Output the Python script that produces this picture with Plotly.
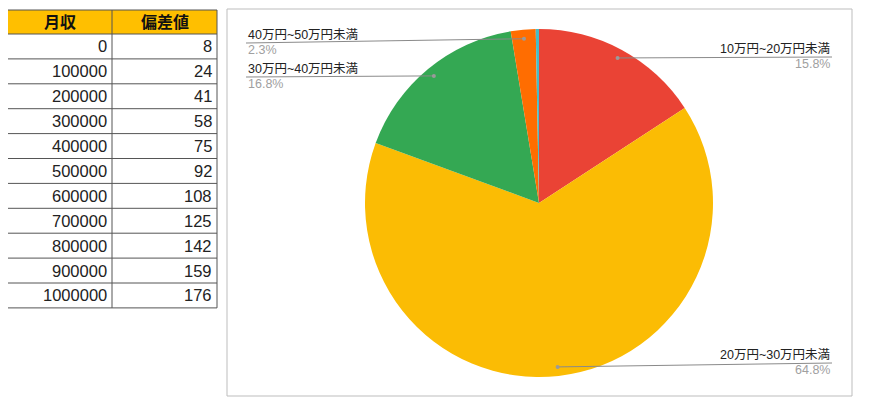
import math
import plotly.graph_objects as go

# table data
header = ["月収", "偏差値"]
income = [0, 100000, 200000, 300000, 400000, 500000, 600000, 700000, 800000, 900000, 1000000]
deviation = [8, 24, 41, 58, 75, 92, 108, 125, 142, 159, 176]

# pie data (percent)
labels = ["10万円~20万円未満", "20万円~30万円未満", "30万円~40万円未満", "40万円~50万円未満", "50万円以上"]
shares = [15.8, 64.8, 16.8, 2.3, 0.3]
colors = ["#EA4335", "#FBBC04", "#34A853", "#FF6D01", "#46BDC6"]

W, H = 870, 410
OFF = 8  # page margin of the browser
CX, CY, R = 539, 203, 174  # pie centre / radius in screen px


def px(x, y):
    return (x - OFF) / W, 1 - (y - OFF) / H


fig = go.Figure()

# ---- table drawn with shapes ----
TX0, TX1, TX2 = 7, 112, 217
TY0, HEAD_H, ROW_H = 10, 24, 24.9
n = len(income)
ty_end = TY0 + HEAD_H + n * ROW_H

a, b = px(TX0, TY0)
c, d = px(TX2, TY0 + HEAD_H)
fig.add_shape(type="rect", xref="paper", yref="paper", x0=a, y0=b, x1=c, y1=d,
              fillcolor="#FFBF00", line=dict(width=0), layer="below")

grid = dict(color="#555", width=1)
for k in range(n + 2):
    yy = TY0 if k == 0 else TY0 + HEAD_H + (k - 1) * ROW_H
    a, b = px(TX0, yy)
    c, _ = px(TX2, yy)
    fig.add_shape(type="line", xref="paper", yref="paper", x0=a, y0=b, x1=c, y1=b, line=grid)
for xx in (TX0, TX1, TX2):
    a, b = px(xx, TY0)
    _, d = px(xx, ty_end)
    fig.add_shape(type="line", xref="paper", yref="paper", x0=a, y0=b, x1=a, y1=d, line=grid)

for j, (xl, xr) in enumerate([(TX0, TX1), (TX1, TX2)]):
    a, b = px((xl + xr) / 2, TY0 + HEAD_H / 2)
    fig.add_annotation(x=a, y=b, xref="paper", yref="paper", text=f"<b>{header[j]}</b>",
                       showarrow=False, xanchor="center", yanchor="middle",
                       font=dict(family="Arial, Noto Sans CJK JP", size=16, color="#111"))

for col, xr in ((income, TX1), (deviation, TX2)):
    for i, v in enumerate(col):
        a, b = px(xr - 3, TY0 + HEAD_H + (i + 0.5) * ROW_H)
        fig.add_annotation(x=a, y=b, xref="paper", yref="paper", text=str(v),
                           showarrow=False, xanchor="right", yanchor="middle",
                           font=dict(family="Arial", size=16.5, color="#222"))

# ---- pie ----
fig.add_trace(go.Pie(
    labels=labels,
    values=shares,
    marker=dict(colors=colors, line=dict(width=0)),
    sort=False,
    direction="clockwise",
    rotation=0,
    textinfo="none",
    hoverinfo="skip",
    showlegend=False,
    domain=dict(x=[px(CX - R, 0)[0], px(CX + R, 0)[0]],
                y=[px(0, CY + R)[1], px(0, CY - R)[1]]),
))

# chart frame
a, b = px(227, 396)
c, d = px(852, 9)
fig.add_shape(type="rect", xref="paper", yref="paper", x0=a, x1=c, y0=b, y1=d,
              line=dict(color="#BDBDBD", width=1))

# outside labels: (x of label end, y of underline, side)
label_pos = {
    0: (832, 57, "right"),
    1: (832, 363, "right"),
    2: (246, 77, "left"),
    3: (246, 43, "left"),
}

total = sum(shares)
cum = 0
for i, v in enumerate(shares):
    mid = (cum + v / 2) / total * 2 * math.pi
    cum += v
    if i not in label_pos:
        continue
    dx = CX + 0.948 * R * math.sin(mid)
    dy = CY - 0.948 * R * math.cos(mid)
    lx, ly, side = label_pos[i]
    x0, y0 = px(dx, dy)
    x1, y1 = px(lx, ly)
    fig.add_shape(type="line", xref="paper", yref="paper", x0=x0, y0=y0, x1=x1, y1=y1,
                  line=dict(color="#8a8a8a", width=1))
    ca, cb = px(dx - 2, dy + 2)
    cc, cd = px(dx + 2, dy - 2)
    fig.add_shape(type="circle", xref="paper", yref="paper", x0=ca, x1=cc, y0=cb, y1=cd,
                  fillcolor="#9a9a9a", line=dict(width=0))
    anchor = "right" if side == "right" else "left"
    fig.add_annotation(x=x1, y=y1, xref="paper", yref="paper", text=labels[i],
                       showarrow=False, xanchor=anchor, yanchor="bottom", yshift=-1,
                       font=dict(family="Arial, Noto Sans CJK JP", size=12.5, color="#222"))
    fig.add_annotation(x=x1, y=y1, xref="paper", yref="paper", text=f"{v}%",
                       showarrow=False, xanchor=anchor, yanchor="top", yshift=2,
                       font=dict(family="Arial", size=12.5, color="#A0A0A0"))

fig.update_layout(
    width=W, height=H,
    margin=dict(l=0, r=0, t=0, b=0),
    paper_bgcolor="white",
    plot_bgcolor="white",
)

fig.write_html("out.html")
